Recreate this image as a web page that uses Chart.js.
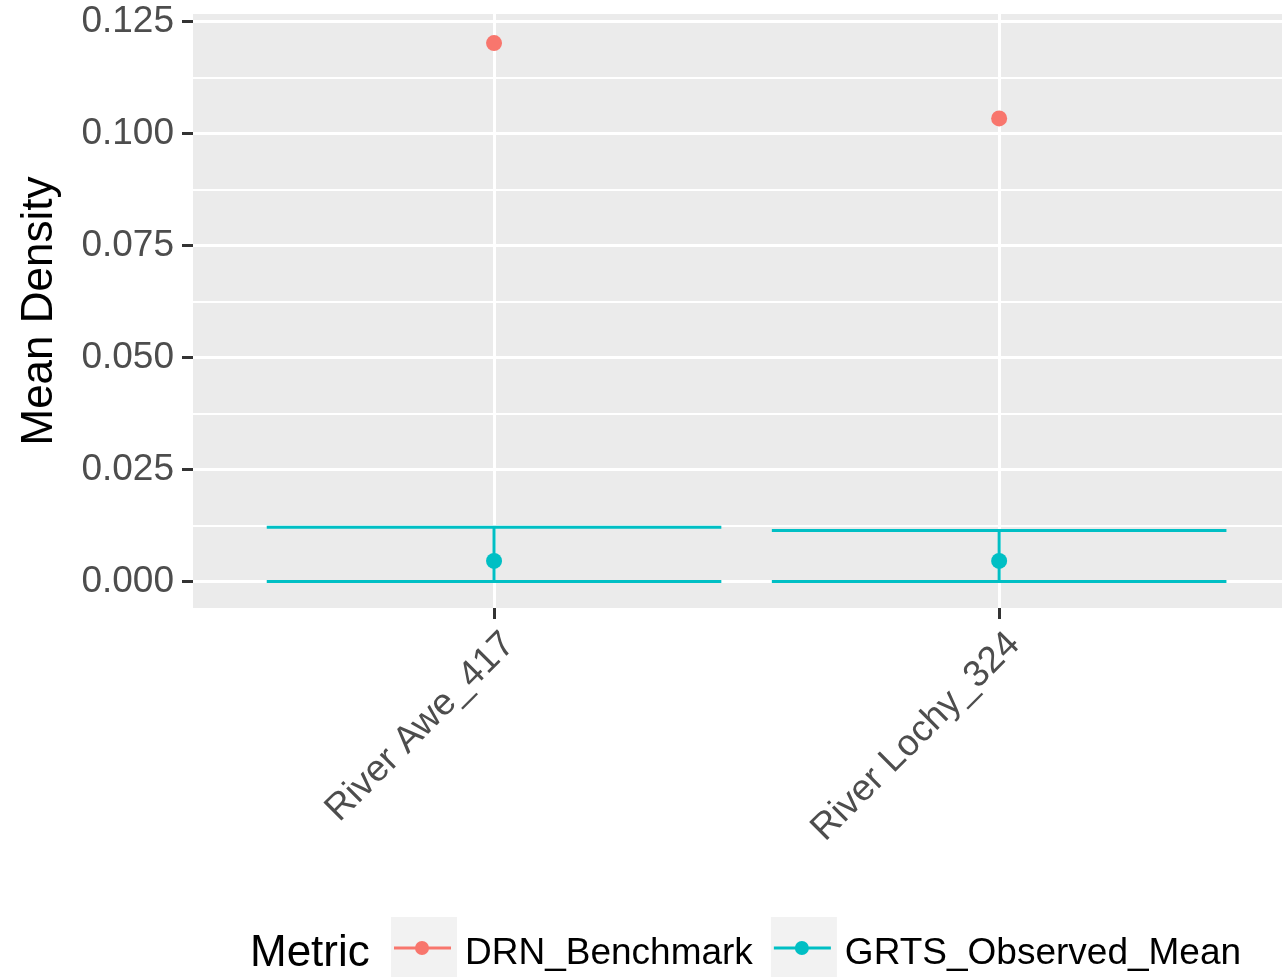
<!DOCTYPE html>
<html><head><meta charset="utf-8">
<script src="https://cdn.jsdelivr.net/npm/chart.js@4.4.1/dist/chart.umd.min.js"></script>
<style>html,body{margin:0;padding:0;background:#fff;overflow:hidden}canvas{display:block}</style>
</head><body>
<canvas id="c" width="1282" height="977"></canvas>
<script>
const categories = ['River Awe_417', 'River Lochy_324'];
const drnBenchmark = [0.1202, 0.1034];
const grtsMean = [0.0046, 0.0046];
const grtsLower = [0.0, 0.0];
const grtsUpper = [0.0121, 0.0114];
const yMajorTicks = [0, 0.025, 0.05, 0.075, 0.1, 0.125];
const yTickLabels = ['0.000', '0.025', '0.050', '0.075', '0.100', '0.125'];
const yMinorTicks = [0.0125, 0.0375, 0.0625, 0.0875, 0.1125];
const seriesNames = ['DRN_Benchmark', 'GRTS_Observed_Mean'];
const seriesColors = ['#F8766D', '#00BFC4'];
const legendTitle = 'Metric';
const yTitle = 'Mean Density';

const FONT = '"Liberation Sans", Arial, sans-serif';
const TICK_SIZE = 37;
const errHalf = 0.45;
const errData = [];
categories.forEach((c, i) => {
  const x = i + 1;
  errData.push({x: x - errHalf, y: grtsUpper[i]}, {x: x + errHalf, y: grtsUpper[i]}, {x: x, y: null});
  errData.push({x: x - errHalf, y: grtsLower[i]}, {x: x + errHalf, y: grtsLower[i]}, {x: x, y: null});
  errData.push({x: x, y: grtsLower[i]}, {x: x, y: grtsUpper[i]}, {x: x, y: null});
});

const panelBg = {
  id: 'panelBg',
  beforeDraw(chart) {
    const {ctx, chartArea: a} = chart;
    ctx.save();
    ctx.fillStyle = '#EBEBEB';
    ctx.fillRect(a.left, a.top, a.right - a.left, a.bottom - a.top);
    ctx.restore();
  }
};

const ggLegend = {
  id: 'ggLegend',
  afterDraw(chart) {
    const ctx = chart.ctx;
    ctx.save();
    const cy = 948;
    ctx.textBaseline = 'alphabetic';
    ctx.textAlign = 'left';
    ctx.fillStyle = '#000';
    ctx.font = '44px ' + FONT;
    ctx.fillText(legendTitle, 250, 966);
    ctx.font = TICK_SIZE + 'px ' + FONT;
    let x = 391;
    seriesNames.forEach((name, i) => {
      ctx.fillStyle = '#F2F2F2';
      ctx.fillRect(x, 917, 66, 64);
      ctx.strokeStyle = seriesColors[i];
      ctx.lineWidth = 3;
      ctx.beginPath(); ctx.moveTo(x + 3, cy); ctx.lineTo(x + 60, cy); ctx.stroke();
      ctx.fillStyle = seriesColors[i];
      ctx.beginPath(); ctx.arc(x + 31, cy, 7, 0, Math.PI * 2); ctx.fill();
      ctx.fillStyle = '#000';
      ctx.fillText(name, x + 74, 964);
      x += 74 + ctx.measureText(name).width + 18;
    });
    ctx.restore();
  }
};

const isMajor = v => yMajorTicks.some(m => Math.abs(m - v) < 1e-9);

new Chart(document.getElementById('c'), {
  type: 'scatter',
  data: {
    datasets: [
      {
        label: 'GRTS_errorbar',
        data: errData,
        showLine: true,
        spanGaps: false,
        borderColor: seriesColors[1],
        borderWidth: 3,
        pointRadius: 0,
        borderCapStyle: 'butt'
      },
      {
        label: seriesNames[0],
        data: categories.map((c, i) => ({x: i + 1, y: drnBenchmark[i]})),
        backgroundColor: seriesColors[0],
        borderWidth: 0,
        pointRadius: 8
      },
      {
        label: seriesNames[1],
        data: categories.map((c, i) => ({x: i + 1, y: grtsMean[i]})),
        backgroundColor: seriesColors[1],
        borderWidth: 0,
        pointRadius: 8
      }
    ]
  },
  options: {
    responsive: false,
    animation: false,
    events: [],
    layout: {autoPadding: false, padding: {top: 14, left: 0, right: 0, bottom: 0}},
    plugins: {legend: {display: false}, tooltip: {enabled: false}},
    scales: {
      x: {
        type: 'linear',
        min: 0.404,
        max: 2.56,
        border: {display: false},
        afterBuildTicks(scale) { scale.ticks = categories.map((c, i) => ({value: i + 1})); },
        afterFit(scale) { scale.height = 977 - 608; scale.paddingLeft = 0; scale.paddingRight = 0; },
        grid: {color: '#FFFFFF', lineWidth: 3, tickColor: '#333333', tickWidth: 3, tickLength: 11},
        ticks: {
          autoSkip: false,
          minRotation: 45,
          maxRotation: 45,
          padding: 4,
          labelOffset: 15,
          color: '#4D4D4D',
          font: {family: FONT, size: TICK_SIZE},
          callback: (v) => categories[Math.round(v) - 1] || ''
        }
      },
      y: {
        type: 'linear',
        min: -0.0059,
        max: 0.1267,
        border: {display: false},
        afterBuildTicks(scale) {
          scale.ticks = yMajorTicks.concat(yMinorTicks).sort((a, b) => a - b).map(v => ({value: v}));
        },
        afterFit(scale) { scale.width = 193; scale.paddingTop = 0; scale.paddingBottom = 0; },
        grid: {
          color: '#FFFFFF',
          lineWidth: (ctx) => (ctx.tick && isMajor(ctx.tick.value)) ? 3 : 2,
          tickColor: (ctx) => (ctx.tick && isMajor(ctx.tick.value)) ? '#333333' : 'rgba(0,0,0,0)',
          tickWidth: 3,
          tickLength: 11
        },
        ticks: {
          autoSkip: false,
          padding: 8,
          color: '#4D4D4D',
          font: {family: FONT, size: TICK_SIZE},
          callback: (v) => {
            const k = yMajorTicks.findIndex(m => Math.abs(m - v) < 1e-9);
            return k >= 0 ? yTickLabels[k] : '';
          }
        },
        title: {
          display: true,
          text: yTitle,
          color: '#000000',
          font: {family: FONT, size: 44},
          padding: {top: 13, bottom: 0}
        }
      }
    }
  },
  plugins: [panelBg, ggLegend]
});
</script>
</body></html>
